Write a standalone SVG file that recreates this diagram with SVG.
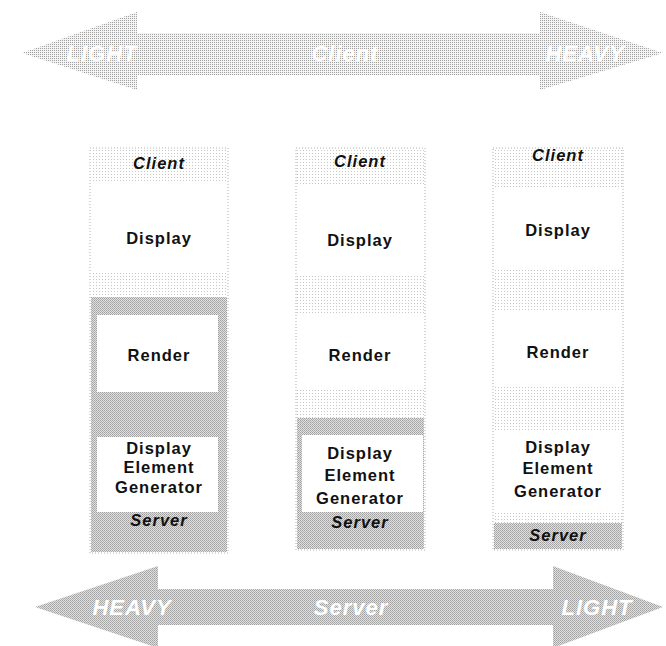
<svg xmlns="http://www.w3.org/2000/svg" width="666" height="646" viewBox="0 0 666 646">
<defs>
<pattern id="dots" width="3" height="3" patternUnits="userSpaceOnUse">
<rect width="3" height="3" fill="#ffffff"/>
<rect x="0" y="0" width="1" height="1" fill="#9a9a9a"/>
</pattern>
<pattern id="dots2" width="2" height="2" patternUnits="userSpaceOnUse">
<rect width="2" height="2" fill="#f4f4f4"/>
<rect x="0" y="0" width="1" height="1" fill="#a0a0a0"/>
</pattern>
<pattern id="grayStip" width="2" height="2" patternUnits="userSpaceOnUse">
<rect width="2" height="2" fill="#e0e0e0"/>
<rect x="0" y="0" width="1" height="1" fill="#a0a0a0"/>
<rect x="1" y="1" width="1" height="1" fill="#b0b0b0"/>
</pattern>
</defs>
<style>
.lbl{font-family:"Liberation Sans",Arial,sans-serif;font-weight:bold;font-size:16.5px;letter-spacing:1px;fill:#111;text-anchor:middle}
.it{font-style:italic}
.arr{font-family:"Liberation Sans",Arial,sans-serif;font-weight:bold;font-style:italic;font-size:22px;letter-spacing:1px;fill:#ffffff;text-anchor:middle}
.col{fill:#ffffff;stroke:#b0b0b0;stroke-width:1;stroke-dasharray:1 2}
.light{fill:url(#dots);opacity:0.55}
.server{fill:url(#grayStip)}
.box{fill:#ffffff}
</style>

<g id="arrows">
<g id="top-arrow">
<polygon points="22,53 137,12 137,33 540,33 540,12 663,53 540,90 540,75 137,75 137,90" fill="url(#dots2)"/>
<text class="arr" x="102" y="61">LIGHT</text>
<text class="arr" x="345" y="61">Client</text>
<text class="arr" x="585" y="61">HEAVY</text>
</g>
<g id="bottom-arrow">
<polygon points="35,607 158,566 158,589 553,589 553,566 663,607 553,648 553,625 158,625 158,648" fill="url(#grayStip)"/>
<text class="arr" x="132" y="615">HEAVY</text>
<text class="arr" x="351" y="615">Server</text>
<text class="arr" x="597" y="615">LIGHT</text>
</g>
</g>

<g id="column1">
<rect class="col" x="90" y="148" width="138" height="405"/>
<rect class="light" x="91" y="149" width="136" height="34"/>
<rect class="light" x="91" y="272" width="136" height="25"/>
<rect class="server" x="91" y="297" width="136" height="255"/>
<g id="c1-client"><text class="lbl it" x="159" y="169">Client</text></g>
<g id="c1-display"><rect class="box" x="97" y="183" width="121" height="89"/><text class="lbl" x="159" y="244">Display</text></g>
<g id="c1-render"><rect class="box" x="97" y="315" width="121" height="77"/><text class="lbl" x="159" y="361">Render</text></g>
<g id="c1-deg"><rect class="box" x="97" y="437" width="121" height="75"/>
<text class="lbl" x="159" y="454">Display</text><text class="lbl" x="159" y="473">Element</text><text class="lbl" x="159" y="493">Generator</text></g>
<g id="c1-server"><text class="lbl it" x="159" y="526">Server</text></g>
</g>

<g id="column2">
<rect class="col" x="296" y="148" width="129" height="402"/>
<rect class="light" x="297" y="149" width="127" height="36"/>
<rect class="light" x="297" y="275" width="127" height="40"/>
<rect class="light" x="297" y="388" width="127" height="30"/>
<rect class="server" x="297" y="418" width="127" height="131"/>
<g id="c2-client"><text class="lbl it" x="360" y="167">Client</text></g>
<g id="c2-display"><text class="lbl" x="360" y="246">Display</text></g>
<g id="c2-render"><text class="lbl" x="360" y="361">Render</text></g>
<g id="c2-deg"><rect class="box" x="302" y="435" width="121" height="77"/>
<text class="lbl" x="360" y="459">Display</text><text class="lbl" x="360" y="481">Element</text><text class="lbl" x="360" y="504">Generator</text></g>
<g id="c2-server"><text class="lbl it" x="360" y="528">Server</text></g>
</g>

<g id="column3">
<rect class="col" x="493" y="148" width="130" height="402"/>
<rect class="light" x="494" y="149" width="128" height="40"/>
<rect class="light" x="494" y="270" width="128" height="40"/>
<rect class="light" x="494" y="387" width="128" height="43"/>
<rect class="light" x="494" y="512" width="128" height="11"/>
<rect class="server" x="494" y="523" width="128" height="26"/>
<g id="c3-client"><text class="lbl it" x="558" y="161">Client</text></g>
<g id="c3-display"><text class="lbl" x="558" y="236">Display</text></g>
<g id="c3-render"><text class="lbl" x="558" y="358">Render</text></g>
<g id="c3-deg"><text class="lbl" x="558" y="453">Display</text><text class="lbl" x="558" y="474">Element</text><text class="lbl" x="558" y="497">Generator</text></g>
<g id="c3-server"><text class="lbl it" x="558" y="541">Server</text></g>
</g>
</svg>
